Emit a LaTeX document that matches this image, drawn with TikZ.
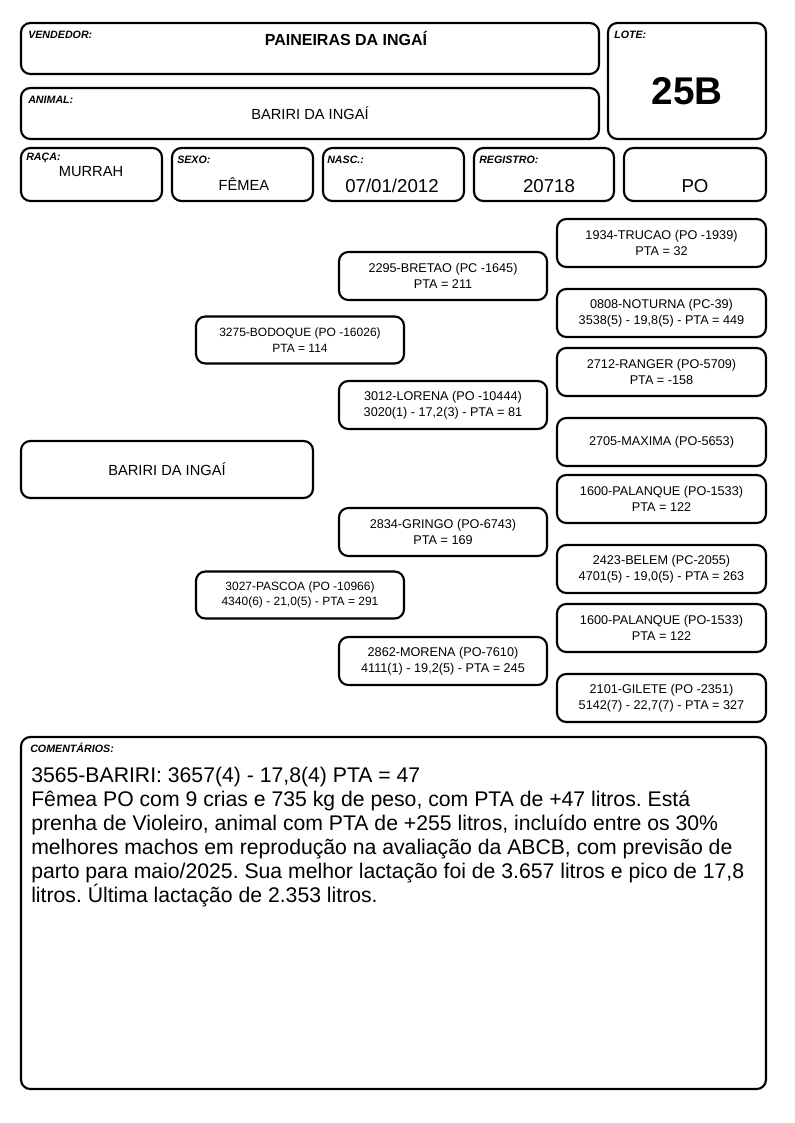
\documentclass[tikz,border=0pt]{standalone}
\usepackage{fontspec}
\setmainfont{Liberation Sans}
\frenchspacing

\begin{document}
\begin{tikzpicture}[x=0.75pt,y=-0.75pt,
    card/.style={draw, line width=1.6pt, rounded corners=7pt, inner sep=0pt, align=center},
    tag/.style={anchor=west, inner sep=0pt, font=\fontsize{8}{9.5}\selectfont\bfseries\itshape},
    anc/.style={card, minimum width=156pt, minimum height=36pt, font=\fontsize{9.5}{12}\selectfont}]

    \useasboundingbox (0,0) rectangle (794,1123);
    \fill[white] (0,0) rectangle (794,1123);

    % cabecalho
    \node[card, minimum width=433.5pt, minimum height=38.25pt] (vend) at (310,48.5) {};
    \node[card, minimum width=433.5pt, minimum height=38.25pt] (anim) at (310,113.5) {};
    \node[card, minimum width=118.5pt, minimum height=87pt] (lote) at (687,81) {};
    \foreach \x/\w/\n in {91.5/141/raca, 242.5/141/sexo, 393.5/141/nasc, 544/140/reg, 695/142/cat} {
        \node[card, minimum width={\w*0.75pt}, minimum height=39.75pt] (\n) at (\x,174.5) {};
    }

    \node[tag] (tvend) at (28,35) {VENDEDOR:};
    \node[tag] (tanim) at (28,100) {ANIMAL:};
    \node[tag] (tlote) at (614,35) {LOTE:};
    \node[tag] (traca) at (26,158) {RAÇA:};
    \node[tag] (tsexo) at (177,160) {SEXO:};
    \node[tag] (tnasc) at (327,160) {NASC.:};
    \node[tag] (treg) at (479,160) {REGISTRO:};

    \node[font=\fontsize{12}{14}\selectfont\bfseries] (vvend) at (346,38) {PAINEIRAS DA INGAÍ};
    \node[font=\fontsize{11}{13}\selectfont] (vanim) at (310,113) {BARIRI DA INGAÍ};
    \node[font=\fontsize{29}{32}\selectfont\bfseries] (vlote) at (687,91) {25B};
    \node[font=\fontsize{11}{13}\selectfont] (vraca) at (91,172) {MURRAH};
    \node[font=\fontsize{11}{13}\selectfont] (vsexo) at (244,184) {FÊMEA};
    \node[font=\fontsize{14}{16}\selectfont] (vnasc) at (392,186) {07/01/2012};
    \node[font=\fontsize{14}{16}\selectfont] (vreg) at (549,186) {20718};
    \node[font=\fontsize{14}{16}\selectfont] (vcat) at (695,186) {PO};

    % genealogia
    \node[card, minimum width=219pt, minimum height=42.75pt, font=\fontsize{11}{13}\selectfont] (prob) at (167,469.5) {BARIRI DA INGAÍ};

    \node[anc, minimum height=35.25pt, font=\fontsize{9}{11.5}\selectfont] (pai) at (300,340) {3275-BODOQUE (PO -16026)\\PTA = 114};
    \node[anc, minimum height=35.25pt, font=\fontsize{9}{11.5}\selectfont] (mae) at (300,595) {3027-PASCOA (PO -10966)\\4340(6) - 21,0(5) - PTA = 291};

    \node[anc] (avo1) at (443,276) {2295-BRETAO (PC -1645)\\PTA = 211};
    \node[anc] (avo2) at (443,405) {3012-LORENA (PO -10444)\\3020(1) - 17,2(3) - PTA = 81};
    \node[anc] (avo3) at (443,532) {2834-GRINGO (PO-6743)\\PTA = 169};
    \node[anc] (avo4) at (443,661) {2862-MORENA (PO-7610)\\4111(1) - 19,2(5) - PTA = 245};

    \foreach \y/\txt [count=\i] in {
        243/{1934-TRUCAO (PO -1939)\\PTA = 32},
        313/{0808-NOTURNA (PC-39)\\3538(5) - 19,8(5) - PTA = 449},
        372/{2712-RANGER (PO-5709)\\PTA = -158},
        442/{2705-MAXIMA (PO-5653)},
        499/{1600-PALANQUE (PO-1533)\\PTA = 122},
        569/{2423-BELEM (PC-2055)\\4701(5) - 19,0(5) - PTA = 263},
        628/{1600-PALANQUE (PO-1533)\\PTA = 122},
        698/{2101-GILETE (PO -2351)\\5142(7) - 22,7(7) - PTA = 327}} {
        \node[anc, minimum width=156.75pt] (bis\i) at (661.5,\y) {\txt};
    }

    % comentarios
    \node[card, minimum width=558.75pt, minimum height=264pt] (obs) at (393.5,913) {};
    \node[tag] (tobs) at (30,748) {COMENTÁRIOS:};
    \node[anchor=north west, inner sep=0pt, align=left, font=\fontsize{15.9}{18}\selectfont] (vobs) at (31,767) {3565-BARIRI: 3657(4) - 17,8(4) PTA = 47\\
        Fêmea PO com 9 crias e 735 kg de peso, com PTA de +47 litros. Está\\
        prenha de Violeiro, animal com PTA de +255 litros, incluído entre os 30\%\\
        melhores machos em reprodução na avaliação da ABCB, com previsão de\\
        parto para maio/2025. Sua melhor lactação foi de 3.657 litros e pico de 17,8\\
        litros. Última lactação de 2.353 litros.};

\end{tikzpicture}
\end{document}
